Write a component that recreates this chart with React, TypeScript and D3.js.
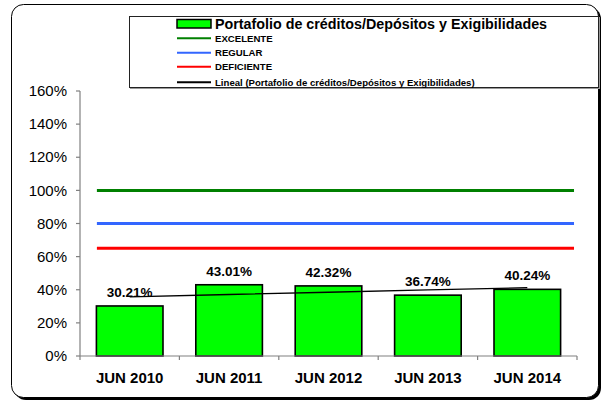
import React from "react";
import * as d3 from "d3";

const categories = ["JUN 2010", "JUN 2011", "JUN 2012", "JUN 2013", "JUN 2014"];
const values = [30.21, 43.01, 42.32, 36.74, 40.24];
const yTicks = [0, 20, 40, 60, 80, 100, 120, 140, 160];
const thresholds = [
  { name: "EXCELENTE", value: 100, color: "#008000" },
  { name: "REGULAR", value: 80, color: "#3366FF" },
  { name: "DEFICIENTE", value: 65, color: "#FF0000" },
];
const seriesName = "Portafolio de créditos/Depósitos y Exigibilidades";
const trendName = "Lineal (Portafolio de créditos/Depósitos y Exigibilidades)";

const FONT = "'Liberation Sans', Arial, sans-serif";

export default function App() {
  const W = 603, H = 403;
  const x = d3.scaleBand<string>().domain(categories).range([80, 577]).paddingInner(0.33).paddingOuter(0.165);
  const y = d3.scaleLinear().domain([0, 160]).range([356, 91]);
  const step = x.step();
  const bw = x.bandwidth();

  // linear trend
  const n = values.length;
  const xs = values.map((_, i) => i + 1);
  const mx = d3.mean(xs)!;
  const my = d3.mean(values)!;
  const slope = d3.sum(xs.map((xi, i) => (xi - mx) * (values[i] - my))) / d3.sum(xs.map((xi) => (xi - mx) ** 2));
  const icpt = my - slope * mx;
  const trendPts: [number, number][] = xs.map((xi, i) => [x(categories[i])! + bw / 2, y(icpt + slope * xi)]);
  const line = d3.line();

  const lineX0 = 80 + step * 0.17;
  const lineX1 = 577 - step * 0.03;

  const boundaries = d3.range(n + 1).map((i) => 80 + i * (497 / n));

  const legendItems = [
    ...thresholds.map((t) => ({ name: t.name, color: t.color })),
    { name: trendName, color: "#000000" },
  ];
  const legendYs = [38.3, 52.7, 66.7, 82.3];

  return (
    <svg width={W} height={H} style={{ position: "absolute", left: 0, top: 0 }} fontFamily={FONT}>
      <rect x={0} y={0} width={W} height={H} fill="#ffffff" />
      {/* outer frame with shadow */}
      <rect x={14} y={7} width={587} height={393} rx={12} fill="#000000" />
      <rect x={11.5} y={4.5} width={587} height={393} rx={12} fill="#ffffff" stroke="#000000" strokeWidth={1} />

      {/* legend */}
      <rect x={130.5} y={17.5} width={469} height={71} fill="none" stroke="#999999" strokeWidth={1} />
      <rect x={129.5} y={16.5} width={469} height={71} fill="#ffffff" stroke="#222222" strokeWidth={1} />
      <rect x={177} y={19.5} width={34} height={8.5} fill="#00FF00" stroke="#000000" strokeWidth={1.5} />
      <text x={215} y={28.5} fontSize={14.3} fontWeight="bold" fill="#000">{seriesName}</text>
      {legendItems.map((it, i) => (
        <g key={it.name}>
          <line x1={177} x2={211} y1={legendYs[i]} y2={legendYs[i]} stroke={it.color} strokeWidth={2} />
          <text x={215} y={legendYs[i] + 3.5} fontSize={9.6} fontWeight="bold" fill="#000">{it.name}</text>
        </g>
      ))}

      {/* y axis */}
      <line x1={80} x2={80} y1={y(160)} y2={y(0)} stroke="#808080" strokeWidth={1.2} />
      {yTicks.map((t) => (
        <g key={t}>
          <line x1={76} x2={80} y1={y(t)} y2={y(t)} stroke="#808080" strokeWidth={1.2} />
          <text x={67} y={y(t) + 5.2} fontSize={15} textAnchor="end" fill="#000">{t}%</text>
        </g>
      ))}

      {/* bars */}
      {values.map((v, i) => (
        <rect key={categories[i]} x={x(categories[i])!} y={y(v)} width={bw} height={y(0) - y(v)}
          fill="#00FF00" stroke="#000000" strokeWidth={1.6} />
      ))}

      {/* threshold lines */}
      {thresholds.map((t) => (
        <line key={t.name} x1={lineX0} x2={lineX1} y1={y(t.value)} y2={y(t.value)} stroke={t.color} strokeWidth={3} />
      ))}

      {/* x axis */}
      <line x1={80} x2={577} y1={y(0)} y2={y(0)} stroke="#808080" strokeWidth={1.2} />
      {boundaries.map((b, i) => (
        <line key={i} x1={b} x2={b} y1={y(0)} y2={y(0) + 4} stroke="#808080" strokeWidth={1.2} />
      ))}
      {categories.map((c) => (
        <text key={c} x={x(c)! + bw / 2} y={y(0) + 27} fontSize={15} fontWeight="bold" textAnchor="middle" fill="#000">{c}</text>
      ))}

      {/* data labels */}
      {values.map((v, i) => (
        <text key={"l" + i} x={x(categories[i])! + bw / 2} y={y(v) - 9} fontSize={13.5} fontWeight="bold" textAnchor="middle" fill="#000">
          {v.toFixed(2)}%
        </text>
      ))}

      {/* trend line */}
      <path d={line(trendPts)!} fill="none" stroke="#000000" strokeWidth={1.3} />
    </svg>
  );
}
